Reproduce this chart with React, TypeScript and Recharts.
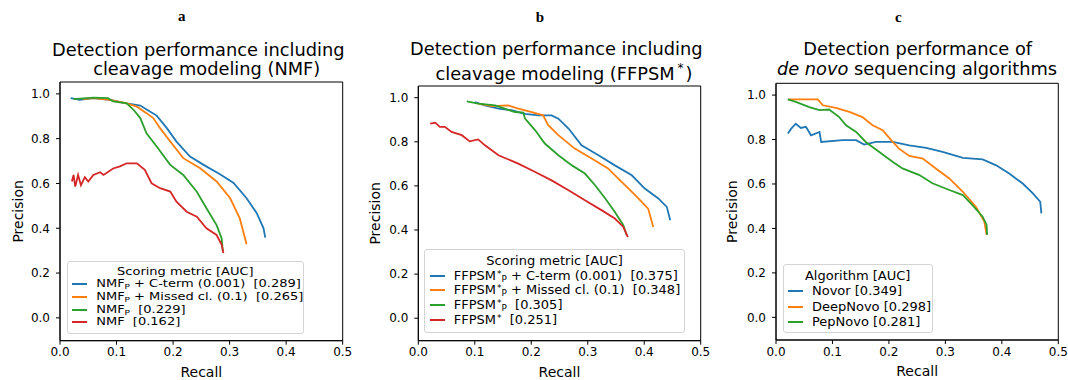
import { LineChart, Line, XAxis, YAxis, ReferenceArea } from "recharts";

const FONT = '"DejaVu Sans", sans-serif';
const BLUE = "#1f77b4";
const ORANGE = "#ff7f0e";
const GREEN = "#2ca02c";
const RED = "#d62728";

type Pt = [number, number]; // [recall, precision]

const RECALL_TICKS = [0, 0.1, 0.2, 0.3, 0.4, 0.5];
const PRECISION_TICKS = [0, 0.2, 0.4, 0.6, 0.8, 1.0];
const Y_DOMAIN: [number, number] = [-0.102, 1.053];

// panel a: NMF
const nmfCterm: Pt[] = [
  [0.019, 0.981], [0.035, 0.973], [0.059, 0.981], [0.088, 0.973], [0.118, 0.958],
  [0.142, 0.948], [0.159, 0.921], [0.171, 0.903], [0.189, 0.847], [0.206, 0.787],
  [0.23, 0.72], [0.254, 0.683], [0.283, 0.641], [0.307, 0.602], [0.33, 0.534],
  [0.348, 0.467], [0.36, 0.4], [0.363, 0.358],
];
const nmfMissed: Pt[] = [
  [0.041, 0.977], [0.059, 0.981], [0.088, 0.973], [0.118, 0.958], [0.136, 0.943],
  [0.153, 0.914], [0.165, 0.892], [0.177, 0.847], [0.195, 0.787], [0.218, 0.713],
  [0.248, 0.668], [0.277, 0.609], [0.301, 0.534], [0.318, 0.444], [0.33, 0.329],
];
const nmfP: Pt[] = [
  [0.024, 0.977], [0.059, 0.983], [0.085, 0.981], [0.094, 0.966], [0.118, 0.958],
  [0.13, 0.929], [0.142, 0.892], [0.153, 0.824], [0.171, 0.765], [0.195, 0.683],
  [0.218, 0.638], [0.242, 0.563], [0.259, 0.489], [0.277, 0.414], [0.286, 0.354],
  [0.288, 0.296],
];
const nmf: Pt[] = [
  [0.021, 0.609], [0.024, 0.638], [0.027, 0.586], [0.032, 0.638], [0.037, 0.592],
  [0.044, 0.628], [0.05, 0.609], [0.059, 0.638], [0.071, 0.65], [0.077, 0.638],
  [0.094, 0.667], [0.106, 0.676], [0.118, 0.69], [0.136, 0.69], [0.15, 0.661],
  [0.162, 0.601], [0.177, 0.579], [0.195, 0.564], [0.206, 0.519], [0.224, 0.474],
  [0.242, 0.452], [0.259, 0.4], [0.277, 0.37], [0.286, 0.326], [0.289, 0.289],
];

// panel b: FFPSM*
const ffCterm: Pt[] = [
  [0.1, 0.98], [0.118, 0.965], [0.142, 0.95], [0.165, 0.943], [0.189, 0.927],
  [0.213, 0.92], [0.236, 0.92], [0.248, 0.905], [0.266, 0.86], [0.289, 0.784],
  [0.319, 0.739], [0.348, 0.693], [0.378, 0.648], [0.401, 0.588], [0.425, 0.543],
  [0.44, 0.505], [0.446, 0.444],
];
const ffMissed: Pt[] = [
  [0.106, 0.973], [0.13, 0.962], [0.159, 0.965], [0.177, 0.95], [0.201, 0.935],
  [0.221, 0.92], [0.23, 0.875], [0.248, 0.83], [0.277, 0.769], [0.307, 0.724],
  [0.336, 0.679], [0.36, 0.618], [0.384, 0.558], [0.407, 0.497], [0.416, 0.414],
];
const ffP: Pt[] = [
  [0.086, 0.983], [0.106, 0.973], [0.136, 0.965], [0.153, 0.95], [0.171, 0.935],
  [0.186, 0.932], [0.189, 0.905], [0.207, 0.852], [0.224, 0.792], [0.248, 0.739],
  [0.272, 0.693], [0.295, 0.656], [0.313, 0.603], [0.331, 0.543], [0.348, 0.482],
  [0.363, 0.422], [0.369, 0.376],
];
const ff: Pt[] = [
  [0.021, 0.882], [0.03, 0.887], [0.038, 0.868], [0.047, 0.868], [0.059, 0.845],
  [0.077, 0.83], [0.091, 0.802], [0.106, 0.811], [0.118, 0.784], [0.142, 0.739],
  [0.177, 0.701], [0.207, 0.663], [0.236, 0.625], [0.266, 0.58], [0.295, 0.535],
  [0.325, 0.489], [0.348, 0.452], [0.363, 0.414], [0.371, 0.368],
];

// panel c: de novo algorithms
const novor: Pt[] = [
  [0.021, 0.827], [0.027, 0.849], [0.035, 0.871], [0.044, 0.852], [0.053, 0.857],
  [0.062, 0.819], [0.077, 0.834], [0.08, 0.789], [0.118, 0.797], [0.142, 0.797],
  [0.156, 0.777], [0.177, 0.789], [0.207, 0.789], [0.236, 0.774], [0.266, 0.762],
  [0.295, 0.744], [0.331, 0.717], [0.366, 0.711], [0.39, 0.684], [0.413, 0.647],
  [0.437, 0.602], [0.455, 0.558], [0.468, 0.52], [0.47, 0.468],
];
const deepNovo: Pt[] = [
  [0.021, 0.981], [0.047, 0.981], [0.074, 0.981], [0.083, 0.954], [0.106, 0.942],
  [0.13, 0.924], [0.153, 0.901], [0.171, 0.864], [0.189, 0.842], [0.204, 0.797],
  [0.218, 0.759], [0.236, 0.726], [0.26, 0.714], [0.283, 0.67], [0.307, 0.625],
  [0.331, 0.565], [0.354, 0.498], [0.369, 0.431], [0.373, 0.371],
];
const pepNovo: Pt[] = [
  [0.021, 0.981], [0.035, 0.969], [0.059, 0.946], [0.077, 0.932], [0.094, 0.935],
  [0.112, 0.901], [0.124, 0.864], [0.142, 0.834], [0.159, 0.789], [0.183, 0.744],
  [0.207, 0.699], [0.224, 0.67], [0.254, 0.64], [0.277, 0.603], [0.307, 0.573],
  [0.331, 0.55], [0.348, 0.505], [0.366, 0.453], [0.373, 0.416], [0.374, 0.371],
];

type Series = { label: string; color: string; points: Pt[] };

const seriesA: Series[] = [
  { label: "NMF_{P} + C-term (0.001)  [0.289]", color: BLUE, points: nmfCterm },
  { label: "NMF_{P} + Missed cl. (0.1)  [0.265]", color: ORANGE, points: nmfMissed },
  { label: "NMF_{P}  [0.229]", color: GREEN, points: nmfP },
  { label: "NMF  [0.162]", color: RED, points: nmf },
];
const seriesB: Series[] = [
  { label: "FFPSM^{*}_{P} + C-term (0.001)  [0.375]", color: BLUE, points: ffCterm },
  { label: "FFPSM^{*}_{P} + Missed cl. (0.1)  [0.348]", color: ORANGE, points: ffMissed },
  { label: "FFPSM^{*}_{P}  [0.305]", color: GREEN, points: ffP },
  { label: "FFPSM^{*}  [0.251]", color: RED, points: ff },
];
const seriesC: Series[] = [
  { label: "Novor [0.349]", color: BLUE, points: novor },
  { label: "DeepNovo [0.298]", color: ORANGE, points: deepNovo },
  { label: "PepNovo [0.281]", color: GREEN, points: pepNovo },
];

const toRows = (pts: Pt[]) => pts.map(([r, p]) => ({ r, p }));

// "_{x}" -> subscript, "^{x}" -> superscript
function RichLabel({ text }: { text: string }) {
  const parts = text.split(/(\^\{[^}]*\}|_\{[^}]*\})/).filter(Boolean);
  return (
    <>
      {parts.map((part, i) => {
        if (part.startsWith("_{"))
          return (
            <span key={i} style={{ fontSize: "0.68em", position: "relative", top: "0.2em" }}>
              {part.slice(2, -1)}
            </span>
          );
        if (part.startsWith("^{"))
          return (
            <span key={i} style={{ fontSize: "0.7em", position: "relative", top: "-0.35em", marginLeft: 1 }}>
              {part.slice(2, -1)}
            </span>
          );
        return <span key={i}>{part}</span>;
      })}
    </>
  );
}

type LegendBox = {
  title: string;
  left: number;
  top: number;
  width: number;
  height: number;
  titleY: number;
  rowY: number[];
  handleX: number;
  textX: number;
  squash: number; // panel a of the source figure is vertically compressed
};

type PanelCfg = {
  left: number;
  width: number;
  margin: { top: number; right: number; bottom: number; left: number };
  yLabelOffset: number;
  series: Series[];
  legend: LegendBox;
};

const panels: PanelCfg[] = [
  {
    left: 0,
    width: 360,
    margin: { top: 82, right: 17.3, bottom: 9.3, left: 20 },
    yLabelOffset: -2,
    series: seriesA,
    legend: {
      title: "Scoring metric [AUC]",
      left: 66.7, top: 260.7, width: 237.3, height: 73.3,
      titleY: 10.5, rowY: [22.8, 35.6, 48, 60.5], handleX: 4.5, textX: 28.5,
      squash: 0.8,
    },
  },
  {
    left: 360,
    width: 360,
    margin: { top: 86, right: 19.3, bottom: 9.3, left: 18.3 },
    yLabelOffset: -3,
    series: seriesB,
    legend: {
      title: "Scoring metric [AUC]",
      left: 424.3, top: 249.3, width: 260.7, height: 84,
      titleY: 10.7, rowY: [25.7, 39.9, 54.6, 69.4], handleX: 4.5, textX: 28.4,
      squash: 0.93,
    },
  },
  {
    left: 710,
    width: 358,
    margin: { top: 83.3, right: 9.7, bottom: 10, left: 26 },
    yLabelOffset: -4,
    series: seriesC,
    legend: {
      title: "Algorithm [AUC]",
      left: 782.7, top: 264, width: 150, height: 69.3,
      titleY: 11, rowY: [26, 41.7, 57], handleX: 4, textX: 28.3,
      squash: 1,
    },
  },
];

const fmt = (v: number) => v.toFixed(1);
const tickStyle = { fontSize: 12, fill: "#000", fontFamily: FONT };

function Panel({ cfg }: { cfg: PanelCfg }) {
  return (
    <div style={{ position: "absolute", left: cfg.left, top: 0 }}>
      <LineChart width={cfg.width} height={380} margin={cfg.margin}>
        <XAxis
          type="number"
          dataKey="r"
          domain={[0, 0.5]}
          ticks={RECALL_TICKS}
          interval={0}
          allowDataOverflow
          tickFormatter={fmt}
          height={30}
          tickSize={4}
          tickMargin={3}
          tick={tickStyle}
          axisLine={{ stroke: "#000" }}
          tickLine={{ stroke: "#000" }}
          label={{
            value: "Recall",
            position: "bottom",
            offset: -4,
            style: { fontSize: 14, fill: "#000", fontFamily: FONT },
          }}
        />
        <YAxis
          type="number"
          domain={Y_DOMAIN}
          ticks={PRECISION_TICKS}
          interval={0}
          allowDataOverflow
          tickFormatter={fmt}
          width={40}
          tickSize={4}
          tickMargin={6}
          tick={tickStyle}
          axisLine={{ stroke: "#000" }}
          tickLine={{ stroke: "#000" }}
          label={{
            value: "Precision",
            angle: -90,
            position: "insideLeft",
            offset: cfg.yLabelOffset,
            style: { fontSize: 14, fill: "#000", fontFamily: FONT, textAnchor: "middle" },
          }}
        />
        {/* full frame around the plot area */}
        <ReferenceArea
          x1={0}
          x2={0.5}
          y1={Y_DOMAIN[0]}
          y2={Y_DOMAIN[1]}
          fill="none"
          stroke="#000"
          strokeWidth={1}
          ifOverflow="visible"
        />
        {cfg.series.map((s) => (
          <Line
            key={s.label}
            data={toRows(s.points)}
            dataKey="p"
            name={s.label}
            type="linear"
            stroke={s.color}
            strokeWidth={1.8}
            dot={false}
            isAnimationActive={false}
          />
        ))}
      </LineChart>
    </div>
  );
}

function LegendOverlay({ lg, series }: { lg: LegendBox; series: Series[] }) {
  const squash = `scaleY(${lg.squash})`;
  return (
    <div
      style={{
        position: "absolute",
        left: lg.left,
        top: lg.top,
        width: lg.width,
        height: lg.height,
        boxSizing: "border-box",
        border: "1px solid #d4d4d4",
        borderRadius: 3,
        background: "rgba(255,255,255,0.85)",
        fontFamily: FONT,
        fontSize: 13,
        color: "#000",
        whiteSpace: "pre",
      }}
    >
      <div
        style={{
          position: "absolute",
          left: 0,
          width: "100%",
          top: lg.titleY - 6,
          height: 12,
          lineHeight: "12px",
          textAlign: "center",
          transform: squash,
        }}
      >
        {lg.title}
      </div>
      {series.map((s, i) => (
        <div key={s.label}>
          <div
            style={{
              position: "absolute",
              left: lg.handleX,
              top: lg.rowY[i] - 1,
              width: 15,
              height: 2,
              background: s.color,
            }}
          />
          <div
            style={{
              position: "absolute",
              left: lg.textX,
              top: lg.rowY[i] - 6,
              height: 12,
              lineHeight: "12px",
              transform: squash,
            }}
          >
            <RichLabel text={s.label} />
          </div>
        </div>
      ))}
    </div>
  );
}

export default function App() {
  return (
    <div
      style={{
        position: "absolute",
        left: 0,
        top: 0,
        width: 1068,
        height: 380,
        background: "#fff",
        overflow: "hidden",
      }}
    >
      {panels.map((p, i) => (
        <Panel key={i} cfg={p} />
      ))}
      {panels.map((p, i) => (
        <LegendOverlay key={i} lg={p.legend} series={p.series} />
      ))}
      <svg
        width={1068}
        height={380}
        style={{ position: "absolute", left: 0, top: 0, pointerEvents: "none" }}
        fontFamily={FONT}
        fill="#000"
      >
        <g fontFamily='"Liberation Serif", serif' fontWeight="bold" fontSize={15} textAnchor="middle">
          <text x={181.7} y={21}>a</text>
          <text x={540} y={21.7}>b</text>
          <text x={898.3} y={21.7}>c</text>
        </g>
        <g fontSize={17.8} textAnchor="middle">
          <text x={198.3} y={56}>Detection performance including</text>
          <text x={206.7} y={75}>cleavage modeling (NMF)</text>
          <text x={556.3} y={55.3}>Detection performance including</text>
          <text x={564} y={80}>
            cleavage modeling (FFPSM
            <tspan fontSize={12} dx={3} dy={-8}>*</tspan>
            <tspan dx={2} dy={8}>)</tspan>
          </text>
          <text x={917.7} y={55.3}>Detection performance of</text>
          <text x={917} y={75}>
            <tspan fontStyle="italic">de novo</tspan> sequencing algorithms
          </text>
        </g>
      </svg>
    </div>
  );
}
